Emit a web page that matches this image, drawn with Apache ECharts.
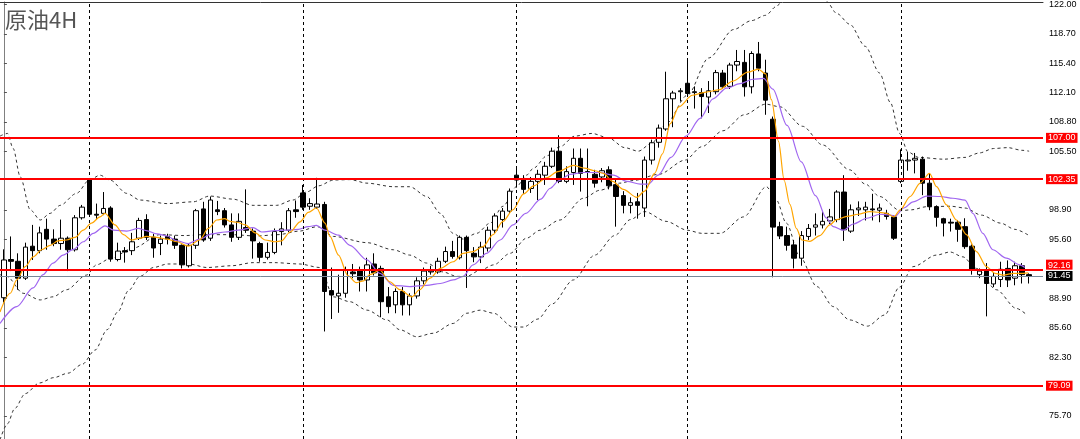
<!DOCTYPE html>
<html>
<head>
<meta charset="utf-8">
<title>原油4H</title>
<script src="https://cdn.jsdelivr.net/npm/echarts@6/dist/echarts.min.js"></script>
<style>
  html, body { margin: 0; padding: 0; background: #fff; }
  #chart { width: 1080px; height: 439px; }
</style>
</head>
<body>
<div id="chart"></div>
<script>
const chartTitle = '原油4H'

// one row per 4H bar: [open, close, low, high]
const candles = [
  [89.0, 93.25, 88.45, 94.45], [93.3, 93.1, 92.0, 95.9], [93.1, 91.2, 89.9, 94.0], [91.2, 94.7, 91.0, 95.2],
  [94.8, 94.3, 93.25, 97.2], [94.3, 96.3, 94.0, 97.0], [96.7, 95.6, 94.4, 97.9], [95.6, 95.1, 94.8, 96.7],
  [95.1, 95.7, 94.4, 97.8], [95.7, 94.4, 92.0, 95.9], [94.4, 98.0, 94.2, 98.3], [98.0, 99.2, 97.8, 99.45],
  [102.3, 98.4, 98.1, 102.4], [98.4, 98.3, 97.8, 99.6], [98.5, 99.05, 98.3, 100.9], [99.1, 93.35, 93.05, 99.3],
  [93.3, 94.25, 93.1, 95.2], [94.3, 94.15, 92.95, 94.7], [94.3, 95.3, 93.8, 96.3], [95.7, 97.7, 95.5, 98.0],
  [97.8, 95.8, 95.5, 98.4], [95.8, 94.6, 93.5, 96.2], [95.1, 95.6, 93.8, 96.0], [95.9, 95.6, 95.0, 96.2],
  [95.6, 94.9, 94.5, 96.0], [94.9, 92.7, 92.3, 95.0], [92.6, 94.9, 92.4, 95.1], [94.9, 98.8, 94.5, 99.0],
  [99.0, 95.5, 95.3, 99.8], [95.7, 100.0, 95.4, 100.4], [98.9, 98.7, 98.3, 99.9], [98.8, 97.2, 96.9, 99.1],
  [97.2, 95.8, 95.3, 98.5], [95.8, 97.6, 95.5, 98.5], [96.9, 96.6, 96.3, 101.2], [96.5, 95.4, 93.4, 96.8],
  [95.1, 93.55, 93.05, 95.3], [93.55, 94.1, 93.3, 95.2], [94.1, 96.45, 93.9, 96.8], [96.45, 96.75, 94.9, 97.5],
  [96.6, 98.8, 96.4, 99.1], [98.9, 98.7, 98.0, 99.95], [100.8, 99.2, 98.9, 101.7], [99.3, 99.6, 98.9, 100.2],
  [99.2, 99.55, 99.0, 102.5], [99.5, 89.7, 85.2, 99.8], [89.8, 89.3, 86.6, 92.4], [89.2, 89.5, 87.3, 91.6],
  [89.5, 92.1, 89.0, 92.5], [91.9, 91.7, 91.2, 92.8], [92.1, 91.0, 89.7, 92.5], [91.0, 92.7, 89.7, 93.5],
  [92.8, 91.8, 91.5, 94.0], [92.3, 88.55, 86.8, 92.6], [89.1, 88.0, 87.25, 90.2], [88.2, 89.7, 87.25, 90.05],
  [89.7, 88.2, 87.0, 90.2], [88.2, 89.2, 87.0, 89.5], [89.2, 90.9, 88.9, 91.3], [90.9, 92.0, 90.5, 92.4],
  [91.9, 92.0, 91.6, 92.6], [91.9, 93.1, 91.7, 93.5], [93.1, 94.2, 92.9, 94.75], [94.2, 93.65, 93.4, 95.4],
  [93.5, 95.8, 93.3, 96.0], [95.8, 94.3, 90.1, 96.0], [94.0, 93.6, 93.0, 94.7], [93.6, 94.7, 92.9, 95.3],
  [94.6, 96.6, 94.2, 97.0], [96.6, 98.2, 96.3, 98.5], [97.8, 98.75, 96.9, 99.1], [98.75, 101.0, 98.5, 101.3],
  [102.8, 102.25, 101.4, 103.75], [102.25, 101.2, 100.7, 102.8], [101.3, 102.1, 100.8, 102.6], [102.1, 102.9, 100.0, 103.4],
  [102.8, 103.8, 101.7, 104.3], [103.8, 105.5, 103.6, 105.9], [105.5, 102.1, 101.9, 107.3], [102.1, 103.2, 101.9, 103.8],
  [103.1, 104.7, 101.7, 105.8], [104.7, 103.0, 100.95, 105.8], [103.2, 103.1, 99.3, 105.8], [102.9, 101.9, 101.4, 103.4],
  [102.6, 103.3, 102.0, 103.6], [103.4, 101.6, 101.2, 103.8], [101.7, 100.4, 97.0, 102.3], [100.5, 99.4, 98.5, 101.0],
  [99.4, 99.7, 98.5, 100.3], [99.8, 99.4, 97.9, 100.8], [99.1, 104.5, 98.1, 104.9], [104.5, 106.45, 104.0, 106.8],
  [106.5, 108.1, 105.9, 108.5], [108.0, 111.4, 107.8, 114.45], [111.4, 112.05, 108.2, 112.3], [112.2, 112.3, 111.1, 112.6],
  [113.15, 112.0, 111.6, 115.8], [112.1, 112.2, 110.3, 112.8], [112.1, 111.65, 109.2, 112.6], [111.6, 112.3, 109.8, 113.4],
  [112.2, 114.35, 111.9, 114.65], [114.3, 112.75, 112.5, 114.65], [112.8, 115.2, 112.5, 115.45], [115.2, 115.6, 114.5, 116.9],
  [115.5, 112.75, 111.65, 116.9], [112.75, 116.5, 112.0, 116.75], [116.45, 114.85, 114.5, 117.8], [114.3, 111.25, 109.6, 115.8],
  [109.1, 96.95, 91.3, 109.4], [97.0, 95.95, 95.6, 97.55], [96.0, 94.9, 94.3, 97.0], [94.95, 93.45, 92.3, 95.5],
  [93.45, 96.0, 92.6, 96.5], [95.9, 96.8, 95.5, 97.3], [96.95, 97.2, 96.0, 98.5], [97.2, 97.6, 96.8, 98.7],
  [97.65, 98.1, 97.3, 99.0], [97.8, 100.9, 97.5, 101.1], [100.9, 96.65, 95.4, 102.8], [96.5, 98.9, 96.3, 99.5],
  [98.9, 99.1, 98.2, 99.85], [98.9, 99.2, 97.7, 99.8], [99.0, 98.9, 97.7, 100.7], [98.85, 99.1, 97.5, 99.6],
  [98.5, 98.15, 97.8, 98.9], [98.1, 95.7, 95.5, 98.3], [102.1, 104.5, 101.9, 105.7], [104.4, 104.5, 103.3, 105.4],
  [104.5, 104.7, 103.0, 105.3], [104.6, 101.9, 100.55, 104.9], [101.9, 99.25, 98.85, 103.0], [99.25, 98.05, 97.0, 99.4],
  [97.9, 97.4, 95.9, 98.0], [97.5, 97.4, 96.45, 97.9], [97.5, 96.7, 95.3, 97.75], [97.0, 94.75, 94.5, 97.95],
  [94.8, 92.1, 91.6, 95.0], [91.6, 92.0, 91.2, 92.3], [92.0, 90.6, 86.9, 92.9], [90.55, 91.4, 90.2, 91.9],
  [91.05, 92.2, 90.2, 93.05], [92.3, 91.0, 90.2, 93.2], [91.2, 92.6, 90.4, 93.05], [92.6, 91.6, 90.6, 92.9],
  [91.6, 91.45, 90.6, 91.75]
]

// indicator lines: [bar index, price]
const maFast = [
  [-0.55, 87.4], [0.9, 89.5], [1.8, 91.0], [3, 92.5], [4.1, 93.6], [5.3, 94.4], [6.5, 94.9], [7.6, 95.4],
  [8.8, 95.5], [10, 95.8], [11.15, 96.6], [12.3, 97.4], [13.5, 98.1], [14.2, 98.5], [15.6, 97.2], [16.8, 96.1],
  [17.9, 95.5], [19.1, 95.7], [20, 95.9], [21.5, 95.8], [22.9, 95.6], [24.3, 95.3], [25.9, 94.8], [27.5, 95.5],
  [28.7, 96.8], [29.9, 97.75], [31, 97.9], [31.75, 97.6], [32.7, 97.5], [33.9, 97.2], [35.3, 96.3], [36.7, 95.5],
  [38.1, 95.3], [39, 95.4], [40.2, 96.4], [41.6, 97.55], [42.75, 98.6], [43.9, 99.1], [45.1, 97.4], [45.8, 95.9],
  [47, 93.8], [48.3, 91.5], [49.5, 90.7], [50.5, 90.9], [51.4, 91.6], [52.8, 92.1], [54.2, 90.8], [55.6, 89.9],
  [57.3, 89.1], [58.4, 89.9], [59.85, 91.2], [61.3, 92.3], [63.1, 93.05], [64.5, 94.0], [65.9, 94.2], [67.3, 94.75],
  [68.7, 96.1], [70.1, 97.6], [71.5, 98.9], [73, 100.7], [74.4, 101.6], [76.2, 102.5], [77.8, 103.2], [80, 103.9],
  [81.5, 103.6], [83, 103.3], [84.2, 103.0], [85.5, 102.1], [87, 101.2], [88.9, 100.3], [90, 101.0], [91.4, 103.0],
  [92.5, 105.2], [93.6, 108.6], [94.8, 110.5], [96.7, 111.8], [98.6, 112.15], [100.4, 112.4], [102.4, 113.4], [104.5, 114.4],
  [105.95, 114.75], [107, 114.2], [107.8, 111.3], [108.8, 106.6], [109.6, 102.2], [110.4, 99.5], [111.3, 96.8], [112.1, 95.5],
  [113.2, 95.35], [114.6, 96.0], [116, 97.2], [116.95, 97.8], [118.4, 98.15], [120, 98.4], [121.6, 98.7], [123.05, 98.6],
  [124, 98.5], [125, 98.1], [125.9, 98.9], [127.3, 100.4], [128.7, 101.9], [130, 103.0], [131, 101.5], [132.4, 99.45],
  [133.8, 97.75], [135.2, 96.1], [136.6, 94.2], [138, 92.5], [139.2, 91.75], [140.4, 91.55], [141.8, 91.75], [143.2, 91.75],
  [143.9, 91.8]
]
const maSlow = [
  [-0.55, 86.1], [1.8, 88.0], [4.1, 90.1], [5.5, 91.6], [6.9, 92.9], [8.3, 93.8], [9.75, 94.45], [11.15, 95.3],
  [12.55, 96.25], [14.2, 97.1], [15.4, 96.6], [17.25, 96.5], [18.9, 96.8], [20, 96.55], [21.5, 96.2], [22.9, 95.95],
  [24.3, 95.4], [25.9, 95.1], [27.5, 95.6], [29.2, 96.2], [31.05, 96.4], [32.9, 96.6], [35, 96.9], [36.2, 96.4],
  [38.1, 96.55], [39.5, 96.6], [41.35, 96.7], [42.75, 97.0], [43.9, 97.15], [45.1, 96.6], [47, 96.05], [48.6, 94.9],
  [51, 93.25], [52.8, 91.75], [54.7, 90.4], [57, 90.25], [59.4, 90.4], [61.3, 90.6], [63.1, 91.0], [64.5, 91.4],
  [65.9, 92.7], [67.8, 94.0], [69.7, 95.5], [71.5, 97.2], [73.3, 98.5], [75.4, 100.1], [76.7, 101.3], [78, 102.2],
  [79.5, 102.9], [81.4, 103.1], [83.7, 103.1], [85.6, 102.8], [87.5, 102.1], [89.4, 101.8], [90.5, 101.8], [91.9, 102.8],
  [93.7, 104.8], [95.8, 107.2], [97.8, 109.2], [99.6, 111.4], [101.5, 112.6], [103.4, 113.1], [105.2, 113.6], [106.7, 113.7],
  [108, 112.5], [110, 108.4], [112, 104.3], [114, 100.5], [115.5, 98.0], [116.5, 97.0], [117.9, 96.6], [119.3, 97.3],
  [121.2, 97.95], [123.05, 98.4], [124.5, 98.3], [125.2, 98.2], [126.4, 99.1], [127.7, 99.8], [129.6, 100.45], [131.5, 100.4],
  [133.3, 100.2], [135, 100.0], [136.1, 98.5], [137.5, 96.25], [138.9, 94.4], [140.8, 93.45], [142.7, 92.7], [143.4, 92.4]
]
const bbUpper = [
  [-0.55, 107.2], [0.5, 107.5], [1.3, 105.8], [2.3, 102.6], [3.7, 98.9], [5.1, 97.75], [6.5, 98.5], [7.9, 99.4],
  [10.2, 100.75], [12, 102.25], [13.5, 102.8], [14.9, 102.25], [17.25, 100.75], [19.1, 100.0], [22.9, 99.6], [26.6, 99.8],
  [28.9, 100.45], [32.2, 100.1], [35, 99.4], [38.3, 99.4], [40.6, 100.0], [42.5, 100.9], [44.2, 101.6], [46.3, 102.25],
  [48.6, 102.3], [51, 101.9], [54.7, 101.5], [57, 101.5], [59.4, 100.4], [61.3, 98.5], [63.1, 96.25], [64.5, 95.6],
  [66.4, 96.25], [68.3, 97.4], [70.1, 99.3], [72, 101.5], [73.4, 102.8], [74.4, 103.6], [76.3, 105.0], [78.1, 106.0],
  [80.2, 107.2], [82.6, 107.5], [84.9, 107.0], [87.2, 105.9], [89.1, 105.5], [91, 106.4], [93, 108.6], [96, 111.8],
  [99, 116.0], [102.5, 119.2], [105, 120.2], [107, 120.8], [108.5, 121.8], [110, 123.4], [112, 123.8], [114, 123.3],
  [115.5, 122.4], [117, 121.0], [118.8, 119.8], [121, 117.3], [123, 114.3], [124.5, 111.0], [125.8, 107.5], [127, 105.4],
  [128.5, 104.8], [132, 104.6], [135, 104.8], [137, 105.3], [139, 105.8], [141, 105.9], [143, 105.6], [144, 105.5]
]
const bbMid = [
  [-0.55, 91.6], [0.4, 91.4], [2.7, 89.5], [5.1, 88.75], [6.9, 89.1], [8.8, 89.9], [11.6, 91.55], [13, 92.7],
  [14.9, 93.4], [18.2, 94.6], [21.9, 96.1], [25.4, 96.0], [28, 96.1], [32, 96.1], [35.5, 95.95], [38.5, 96.1],
  [41.5, 96.5], [44, 97.0], [46.3, 95.9], [51, 95.2], [54.7, 94.4], [57, 93.8], [59.4, 92.9], [61.7, 91.9],
  [63.6, 91.4], [65, 91.4], [66.9, 92.1], [68.8, 92.7], [71.1, 94.0], [73.4, 95.7], [75.3, 96.6], [78.1, 97.75],
  [81.4, 100.2], [83.7, 101.1], [86.5, 101.9], [88.4, 102.2], [92, 102.9], [95.7, 104.5], [98, 106.0], [101, 107.8],
  [104, 109.6], [107, 110.8], [109, 110.5], [112.2, 108.3], [115, 106.2], [118.8, 103.4], [121, 101.8], [123, 100.4],
  [125.9, 98.8], [127.5, 98.9], [129.6, 99.25], [133, 99.3], [135, 99.1], [137.3, 98.3], [140, 97.4], [142, 96.7],
  [144, 96.0]
]
const bbLower = [
  [-0.55, 73.0], [0.5, 74.8], [1.5, 76.5], [3, 78.2], [5, 79.4], [7, 80.0], [9, 80.5], [11, 81.5],
  [12.8, 83.1], [14.5, 85.4], [16, 87.4], [17.5, 89.8], [19.1, 91.4], [21, 92.4], [23, 92.8], [26, 92.8],
  [28.5, 92.4], [32, 92.6], [35, 92.95], [38, 92.95], [41.5, 92.8], [44.4, 92.4], [46.3, 89.1], [48.6, 88.55],
  [51, 87.6], [53.8, 86.5], [55.6, 85.4], [58, 84.6], [60.3, 85.0], [63.1, 86.1], [65, 87.25], [66.9, 87.6],
  [68.8, 87.25], [71.5, 85.7], [73, 85.7], [75, 86.6], [77, 88.3], [80, 91.0], [83, 93.8], [85.8, 96.0],
  [88, 97.8], [90, 98.7], [93, 97.6], [96, 96.6], [98, 96.25], [100.6, 96.25], [103.9, 98.1], [107.1, 101.5],
  [108.5, 100.0], [109.9, 97.4], [111.8, 93.6], [114.2, 90.25], [116.5, 88.0], [118.8, 86.5], [121.3, 85.8], [123.7, 87.05],
  [125.8, 90.2], [127.7, 92.5], [131, 93.8], [132.9, 94.15], [134.7, 93.6], [136.6, 92.3], [139.4, 89.9], [142.2, 87.8],
  [143.7, 87.05]
]

const weekStarts = [12, 42, 72, 96, 126]
const levels = [107.00, 102.35, 92.16, 79.09]
const lastPrice = 91.45
const priceTicks = [75.70, 82.30, 85.60, 88.90, 95.60, 98.90, 105.50, 108.80, 112.10, 115.40, 118.70, 122.00]

const chart = echarts.init(document.getElementById('chart'))

function boxLabel(bg, vAlign) {
  return {
    show: true,
    position: 'end',
    distance: 3,
    formatter: (p) => Number(p.value).toFixed(2),
    backgroundColor: bg,
    color: '#fff',
    fontSize: 9,
    lineHeight: 9,
    padding: [1, 2, 0, 2],
    verticalAlign: vAlign,
    fontFamily: 'Liberation Sans'
  }
}

const markLines = [
  ...weekStarts.map((x) => ({
    xAxis: x,
    lineStyle: { color: '#000', width: 1, type: [3, 3] },
    label: { show: false }
  })),
  ...levels.map((v) => ({
    yAxis: v,
    lineStyle: { color: '#ff0000', width: 2, type: 'solid' },
    // the 92.16 box sits just above its line so the last-price box stays readable
    label: boxLabel('#ff0000', v === 92.16 ? 'bottom' : 'middle')
  })),
  {
    yAxis: lastPrice,
    lineStyle: { color: '#778899', width: 1, type: 'solid' },
    label: boxLabel('#000', 'middle')
  }
]

function bandSeries(data) {
  return {
    type: 'line',
    data,
    showSymbol: false,
    smooth: 0.3,
    smoothMonotone: 'x',
    silent: true,
    lineStyle: { color: '#333', width: 1, type: [3, 3] },
    z: 2
  }
}

function maSeries(data, color) {
  return {
    type: 'line',
    data,
    showSymbol: false,
    smooth: 0.3,
    smoothMonotone: 'x',
    silent: true,
    lineStyle: { color, width: 1.2 },
    z: 4
  }
}

chart.setOption({
  animation: false,
  backgroundColor: '#fff',
  title: {
    text: chartTitle,
    left: 0,
    top: 4,
    textStyle: { fontSize: 22, fontWeight: 'normal', color: '#555', fontFamily: 'Noto Sans CJK SC' }
  },
  grid: { left: 0, right: 37, top: 2, bottom: 0 },
  xAxis: {
    type: 'value',
    min: -0.55,
    max: 145.95,
    position: 'top',
    axisLine: { show: true, lineStyle: { color: '#333', width: 1 } },
    axisTick: { show: false },
    axisLabel: { show: false },
    splitLine: { show: false }
  },
  yAxis: {
    type: 'value',
    position: 'right',
    min: 73.09,
    max: 122.3,
    axisLine: { show: true, lineStyle: { color: '#808080', width: 1 } },
    axisTick: { show: true, length: 3, customValues: priceTicks, lineStyle: { color: '#555' } },
    axisLabel: {
      customValues: priceTicks,
      formatter: (v) => v.toFixed(2),
      fontSize: 9,
      color: '#000',
      margin: 6,
      fontFamily: 'Liberation Sans'
    },
    splitLine: { show: false }
  },
  series: [
    bandSeries(bbUpper),
    bandSeries(bbMid),
    bandSeries(bbLower),
    {
      type: 'candlestick',
      data: candles.map((c, i) => [i, c[0], c[1], c[2], c[3]]),
      encode: { x: 0, y: [1, 2, 3, 4] },
      barWidth: 5,
      itemStyle: {
        color: '#fff',
        color0: '#000',
        borderColor: '#000',
        borderColor0: '#000',
        borderWidth: 1
      },
      z: 3,
      markLine: {
        silent: true,
        symbol: ['none', 'none'],
        data: markLines,
        z: 5
      }
    },
    maSeries(maSlow, '#a066f0'),
    maSeries(maFast, '#ffa500')
  ]
})
</script>
</body>
</html>
